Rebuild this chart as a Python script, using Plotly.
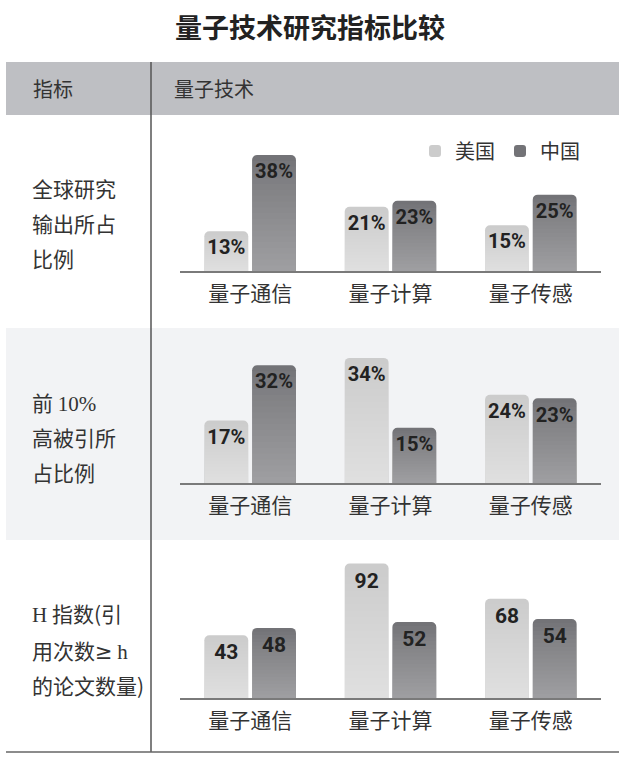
import plotly.graph_objects as go

W, H = 619, 762

title_text = "量子技术研究指标比较"
header_left = "指标"
header_right = "量子技术"
categories = ["量子通信", "量子计算", "量子传感"]
series_names = ["美国", "中国"]

share_us = [13, 21, 15]
share_cn = [38, 23, 25]
top10_us = [17, 34, 24]
top10_cn = [32, 15, 23]
hidx_us = [43, 92, 68]
hidx_cn = [48, 52, 54]

SERIF = "font-family:'Liberation Serif'"
SANS = "font-family:'DejaVu Sans'"
row_labels = [
    ["全球研究", "输出所占", "比例"],
    [f'前 <span style="{SERIF}">10%</span>', "高被引所", "占比例"],
    [f'<span style="{SERIF}">H</span> 指数(引',
     f'用次数<span style="{SANS}">≥</span> <span style="{SERIF}">h</span>', "的论文数量)"],
]
value_suffix = ["%", "%", ""]
row_data = [(share_us, share_cn), (top10_us, top10_cn), (hidx_us, hidx_cn)]

# layout geometry in pixels (top, baseline, value range max)
row_geom = [(140, 271, 42.9), (345, 483, 37.5), (555, 698, 97.9)]
row_label_y = [[188, 223, 258], [402, 437, 472], [613, 650, 685]]

top_colors = ["#cccccc", "#737377"]
fade_alpha = [0.033, 0.025]
N = 20

def py(p):
    return 1 - p / H

def px(p):
    return p / W

CJK = "Noto Sans CJK SC"
fig = go.Figure()

for r, (us, cn) in enumerate(row_data):
    xa = "x" if r == 0 else f"x{r+1}"
    ya = "y" if r == 0 else f"y{r+1}"
    for s, vals in enumerate((us, cn)):
        og = f"g{s}"
        fig.add_trace(go.Bar(
            x=categories, y=vals, name=series_names[s], xaxis=xa, yaxis=ya,
            offsetgroup=og, marker=dict(color=top_colors[s], line=dict(width=0)),
            showlegend=(r == 0), hoverinfo="skip", legendgroup=og,
        ))
        for k in range(1, N):
            fig.add_trace(go.Bar(
                x=categories, y=[v * k / N for v in vals], xaxis=xa, yaxis=ya,
                offsetgroup=og,
                marker=dict(color=f"rgba(255,255,255,{fade_alpha[s]})", line=dict(width=0), cornerradius=0),
                showlegend=False, hoverinfo="skip",
            ))
    for s, vals in enumerate((us, cn)):
        og = f"g{s}"
        fig.add_trace(go.Bar(
            x=categories, y=vals, xaxis=xa, yaxis=ya, offsetgroup=og,
            marker=dict(color="rgba(0,0,0,0)", line=dict(width=0)),
            text=[f"{v}{value_suffix[r]}" for v in vals],
            textposition="inside", insidetextanchor="end", textangle=0,
            constraintext="none",
            textfont=dict(family="Roboto", size=21, color="#222222", weight=700),
            showlegend=False, hoverinfo="skip",
        ))

layout = dict(
    width=W, height=H,
    margin=dict(l=0, r=0, t=0, b=0),
    paper_bgcolor="white", plot_bgcolor="rgba(0,0,0,0)",
    barmode="group", bargap=0.32, bargroupgap=0.08, barcornerradius=5,
    hovermode=False,
    showlegend=True,
    legend=dict(orientation="h", x=px(585), xanchor="right", y=py(151), yanchor="middle",
                font=dict(family=CJK, size=20, color="#333333"), bgcolor="rgba(0,0,0,0)",
                traceorder="normal"),
    font=dict(family=CJK),
)

xdom = [px(180), px(601)]
for r, (top, base, rmax) in enumerate(row_geom):
    xk = "xaxis" if r == 0 else f"xaxis{r+1}"
    yk = "yaxis" if r == 0 else f"yaxis{r+1}"
    yname = "y" if r == 0 else f"y{r+1}"
    xname = "x" if r == 0 else f"x{r+1}"
    layout[xk] = dict(domain=xdom, anchor=yname, showline=True, linecolor="#7a7a7a", linewidth=2,
                      ticks="outside", ticklen=3, tickcolor="rgba(0,0,0,0)",
                      tickfont=dict(family=CJK, size=21, color="#333333"),
                      showgrid=False, zeroline=False, fixedrange=True)
    layout[yk] = dict(domain=[py(base), py(top)], anchor=xname, range=[0, rmax], visible=False,
                      showgrid=False, zeroline=False, fixedrange=True)

fig.update_layout(**layout)

shapes = []
# header band
shapes.append(dict(type="rect", xref="paper", yref="paper", x0=px(6), x1=1, y0=py(115), y1=py(62),
                   fillcolor="#bebfc3", line=dict(width=0), layer="below"))
# middle row band
shapes.append(dict(type="rect", xref="paper", yref="paper", x0=px(6), x1=1, y0=py(540), y1=py(328),
                   fillcolor="#f2f3f5", line=dict(width=0), layer="below"))
# vertical divider
shapes.append(dict(type="line", xref="paper", yref="paper", x0=px(151), x1=px(151), y0=py(752), y1=py(62),
                   line=dict(color="#555555", width=1.5), layer="above"))
# bottom rule
shapes.append(dict(type="line", xref="paper", yref="paper", x0=px(6), x1=1, y0=py(752), y1=py(752),
                   line=dict(color="#666666", width=1.5), layer="above"))
fig.update_layout(shapes=shapes)

ann = []
ann.append(dict(text=f"<b>{title_text}</b>", x=px(310), y=py(26), xref="paper", yref="paper",
                xanchor="center", yanchor="middle", showarrow=False,
                font=dict(family=CJK, size=27, color="#222222")))
ann.append(dict(text=header_left, x=px(31), y=py(89), xref="paper", yref="paper",
                xanchor="left", yanchor="middle", showarrow=False,
                font=dict(family=CJK, size=20, color="#333333")))
ann.append(dict(text=header_right, x=px(172), y=py(89), xref="paper", yref="paper",
                xanchor="left", yanchor="middle", showarrow=False,
                font=dict(family=CJK, size=20, color="#333333")))
for r in range(3):
    for i, line in enumerate(row_labels[r]):
        ann.append(dict(text=line, x=px(30), y=py(row_label_y[r][i]), xref="paper", yref="paper",
                        xanchor="left", yanchor="middle", showarrow=False,
                        font=dict(family=CJK, size=21, color="#333333")))
fig.update_layout(annotations=ann)

fig.write_html("out.html")
